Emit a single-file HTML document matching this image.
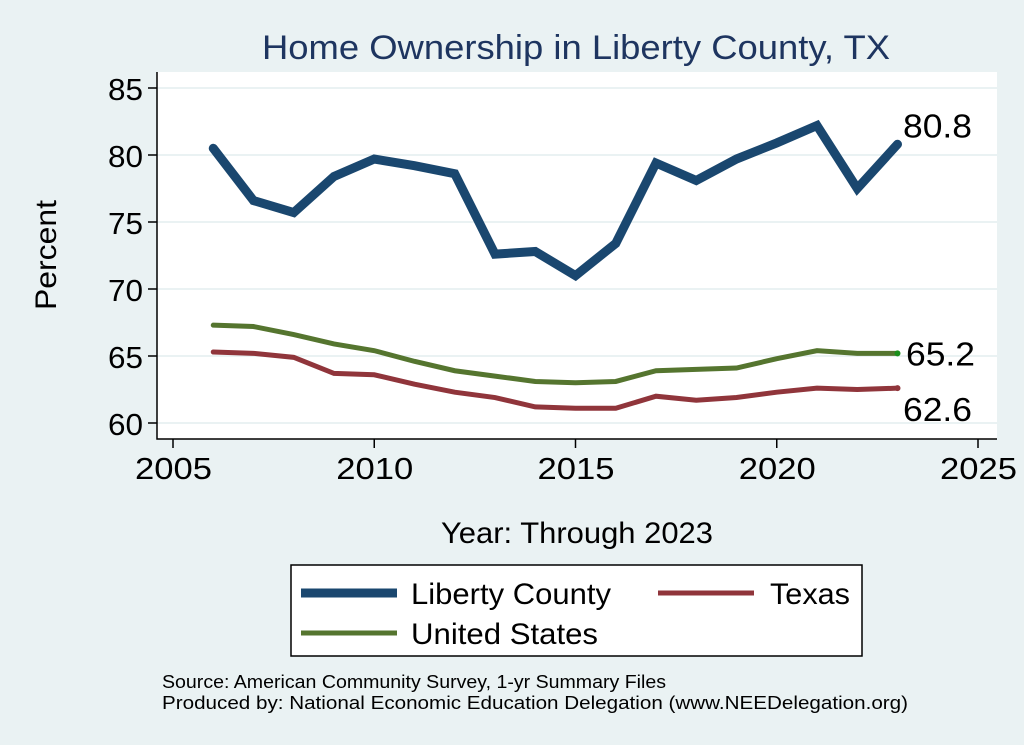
<!DOCTYPE html>
<html><head><meta charset="utf-8"><style>
body{margin:0;background:#eaf2f3;}
svg{display:block;font-family:"Liberation Sans",sans-serif;}
</style></head><body>
<svg id="c" width="1024" height="745" viewBox="0 0 1024 745">
<rect x="0" y="0" width="1024" height="745" fill="#eaf2f3"/>
<text x="262" y="59" font-size="34" fill="#1e3560" textLength="628" lengthAdjust="spacingAndGlyphs">Home Ownership in Liberty County, TX</text>
<rect x="157" y="72" width="840" height="367" fill="#fff"/>
<g id="grid"></g><g id="axes"></g><g id="series"></g>
<text transform="translate(56,200) rotate(-90)" font-size="30" text-anchor="end" textLength="110" lengthAdjust="spacingAndGlyphs">Percent</text>
<text x="441" y="543" font-size="30" textLength="272" lengthAdjust="spacingAndGlyphs">Year: Through 2023</text>
<g>
<rect x="291" y="565" width="571" height="91" fill="#fff" stroke="#000" stroke-width="1.5"/>
<line x1="301" y1="593" x2="397" y2="593" stroke="#1a476f" stroke-width="9"/>
<text x="411" y="604" font-size="30" textLength="200" lengthAdjust="spacingAndGlyphs">Liberty County</text>
<line x1="658" y1="593" x2="754" y2="593" stroke="#90353b" stroke-width="5"/>
<text x="770" y="604" font-size="30" textLength="80" lengthAdjust="spacingAndGlyphs">Texas</text>
<line x1="301" y1="633" x2="397" y2="633" stroke="#55752f" stroke-width="5"/>
<text x="411" y="644" font-size="30" textLength="187" lengthAdjust="spacingAndGlyphs">United States</text>
</g>
<text x="162" y="688" font-size="18" textLength="504" lengthAdjust="spacingAndGlyphs">Source: American Community Survey, 1-yr Summary Files</text>
<text x="162" y="709" font-size="18" textLength="746" lengthAdjust="spacingAndGlyphs">Produced by: National Economic Education Delegation (www.NEEDelegation.org)</text>
</svg>
<script>
const years=[2006,2007,2008,2009,2010,2011,2012,2013,2014,2015,2016,2017,2018,2019,2020,2021,2022,2023];
const liberty=[80.5,76.6,75.7,78.4,79.7,79.2,78.6,72.6,72.8,71.0,73.4,79.4,78.1,79.7,80.9,82.2,77.5,80.8];
const texas=[65.3,65.2,64.9,63.7,63.6,62.9,62.3,61.9,61.2,61.1,61.1,62.0,61.7,61.9,62.3,62.6,62.5,62.6];
const usa=[67.3,67.2,66.6,65.9,65.4,64.6,63.9,63.5,63.1,63.0,63.1,63.9,64.0,64.1,64.8,65.4,65.2,65.2];
const yTicks=[60,65,70,75,80,85];
const xTicks=[2005,2010,2015,2020,2025];
const NS='http://www.w3.org/2000/svg';
const X=v=>173+(v-2005)*40.25;
const Y=v=>423-(v-60)*13.4;
function mk(tag,attrs,parent){const e=document.createElementNS(NS,tag);for(const k in attrs)e.setAttribute(k,attrs[k]);document.getElementById(parent).appendChild(e);return e;}
yTicks.forEach(t=>{
 const g=mk('line',{x1:157,x2:997,y1:Y(t),y2:Y(t),stroke:'#eaf2f3','stroke-width':2},'grid');
 
 
 const tk=mk('line',{x1:148,x2:157,y1:Y(t),y2:Y(t),stroke:'#000','stroke-width':1.5},'axes');
 
 
 const tx=mk('text',{x:143,y:Y(t)+12,'font-size':31,'text-anchor':'end',textLength:35,lengthAdjust:'spacingAndGlyphs'},'axes');
 tx.textContent=t;
 
 
});
xTicks.forEach(t=>{
 const tk=mk('line',{x1:X(t),x2:X(t),y1:439,y2:448,stroke:'#000','stroke-width':1.5},'axes');
 
 
 const tx=mk('text',{x:X(t)-38,y:479,'font-size':31,textLength:77,lengthAdjust:'spacingAndGlyphs'},'axes');
 tx.textContent=t;
 
 
});
const ax=mk('path',{d:'M157 72 V439 H997',fill:'none',stroke:'#000','stroke-width':1.5},'axes');


function line(vals,color,w,name,lx,labelDy){
 const p=mk('polyline',{points:vals.map((v,i)=>X(years[i])+','+Y(v)).join(' '),fill:'none',stroke:color,'stroke-width':w,'stroke-linejoin':'miter','stroke-linecap':'round'},'series');
 
 
 const last=vals[vals.length-1];
 const d=mk('circle',{cx:X(years[years.length-1]),cy:Y(last),r:w>6?4:3,fill:name==='us'?'#1a8f1a':color},'series');
 
 
 const t=mk('text',{x:lx,y:Y(last)+labelDy,'font-size':33,textLength:69,lengthAdjust:'spacingAndGlyphs'},'series');
 t.textContent=last.toFixed(1);
 
 
}
line(usa,'#55752f',5,'us',906,12);
line(texas,'#90353b',5,'texas',903,33);
line(liberty,'#1a476f',9,'liberty',903,-7);
</script>
</body></html>
